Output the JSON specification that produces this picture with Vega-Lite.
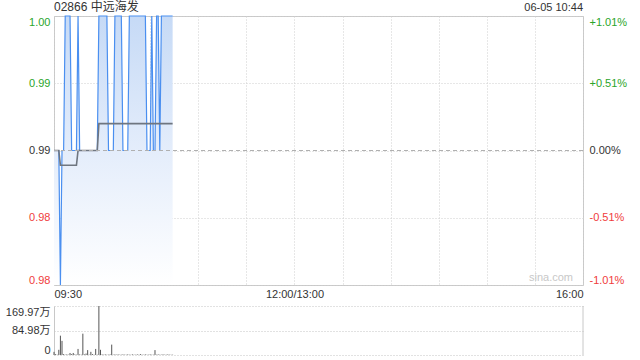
{
  "$schema": "https://vega.github.io/schema/vega-lite/v6.json",
  "padding": {"left": 5, "top": 0, "right": 5, "bottom": 0},
  "background": "white",
  "spacing": 5,
  "config": {
    "font": "Liberation Sans, Noto Sans CJK SC",
    "view": {"stroke": null},
    "axis": {"labelFontSize": 11, "labelColor": "#333", "ticks": false, "title": null, "gridColor": "#cfcfcf", "gridDash": [1, 2], "domainColor": "#c8c8c8", "labelOverlap": false}
  },
  "datasets": {
    "d": [
      {"m": 0, "p": 0.99, "a": 0.99, "v": 11},
      {"m": 1, "p": 0.99, "a": 0.99, "v": 3},
      {"m": 2, "p": 0.99, "a": 0.99, "v": 1},
      {"m": 3, "p": 0.99, "a": 0.99, "v": 18},
      {"m": 4, "p": 0.98, "a": 0.9889, "v": 67},
      {"m": 5, "p": 0.99, "a": 0.9889, "v": 49},
      {"m": 6, "p": 0.99, "a": 0.9889, "v": 3},
      {"m": 7, "p": 1.0, "a": 0.9889, "v": 1},
      {"m": 8, "p": 1.0, "a": 0.9889, "v": 2},
      {"m": 9, "p": 1.0, "a": 0.9889, "v": 1},
      {"m": 10, "p": 1.0, "a": 0.9889, "v": 7},
      {"m": 11, "p": 0.99, "a": 0.9889, "v": 3},
      {"m": 12, "p": 0.99, "a": 0.9889, "v": 7},
      {"m": 13, "p": 0.99, "a": 0.9889, "v": 2},
      {"m": 14, "p": 0.99, "a": 0.9889, "v": 1},
      {"m": 15, "p": 1.0, "a": 0.99, "v": 21},
      {"m": 16, "p": 0.99, "a": 0.99, "v": 2},
      {"m": 17, "p": 0.99, "a": 0.99, "v": 1},
      {"m": 18, "p": 0.99, "a": 0.99, "v": 74},
      {"m": 19, "p": 0.99, "a": 0.99, "v": 2},
      {"m": 20, "p": 0.99, "a": 0.99, "v": 5},
      {"m": 21, "p": 0.99, "a": 0.99, "v": 17},
      {"m": 22, "p": 0.99, "a": 0.99, "v": 1},
      {"m": 23, "p": 0.99, "a": 0.99, "v": 11},
      {"m": 24, "p": 0.99, "a": 0.99, "v": 3},
      {"m": 25, "p": 0.99, "a": 0.99, "v": 1},
      {"m": 26, "p": 0.99, "a": 0.99, "v": 21},
      {"m": 27, "p": 0.99, "a": 0.99, "v": 1},
      {"m": 28, "p": 1.0, "a": 0.992, "v": 169.97},
      {"m": 29, "p": 1.0, "a": 0.992, "v": 18},
      {"m": 30, "p": 1.0, "a": 0.992, "v": 2},
      {"m": 31, "p": 1.0, "a": 0.992, "v": 1},
      {"m": 32, "p": 1.0, "a": 0.992, "v": 2},
      {"m": 33, "p": 1.0, "a": 0.992, "v": 1},
      {"m": 34, "p": 0.99, "a": 0.992, "v": 1},
      {"m": 35, "p": 0.99, "a": 0.992, "v": 2},
      {"m": 36, "p": 0.99, "a": 0.992, "v": 36},
      {"m": 37, "p": 0.99, "a": 0.992, "v": 1},
      {"m": 38, "p": 1.0, "a": 0.992, "v": 2},
      {"m": 39, "p": 1.0, "a": 0.992, "v": 1},
      {"m": 40, "p": 1.0, "a": 0.992, "v": 2},
      {"m": 41, "p": 1.0, "a": 0.992, "v": 1},
      {"m": 42, "p": 1.0, "a": 0.992, "v": 1},
      {"m": 43, "p": 0.99, "a": 0.992, "v": 2},
      {"m": 44, "p": 0.99, "a": 0.992, "v": 1},
      {"m": 45, "p": 0.99, "a": 0.992, "v": 1},
      {"m": 46, "p": 0.99, "a": 0.992, "v": 2},
      {"m": 47, "p": 1.0, "a": 0.992, "v": 1},
      {"m": 48, "p": 1.0, "a": 0.992, "v": 1},
      {"m": 49, "p": 1.0, "a": 0.992, "v": 2},
      {"m": 50, "p": 1.0, "a": 0.992, "v": 1},
      {"m": 51, "p": 1.0, "a": 0.992, "v": 1},
      {"m": 52, "p": 1.0, "a": 0.992, "v": 2},
      {"m": 53, "p": 1.0, "a": 0.992, "v": 1},
      {"m": 54, "p": 1.0, "a": 0.992, "v": 3},
      {"m": 55, "p": 1.0, "a": 0.992, "v": 1},
      {"m": 56, "p": 1.0, "a": 0.992, "v": 1},
      {"m": 57, "p": 1.0, "a": 0.992, "v": 2},
      {"m": 58, "p": 0.99, "a": 0.992, "v": 1},
      {"m": 59, "p": 0.99, "a": 0.992, "v": 1},
      {"m": 60, "p": 0.99, "a": 0.992, "v": 2},
      {"m": 61, "p": 1.0, "a": 0.992, "v": 1},
      {"m": 62, "p": 0.99, "a": 0.992, "v": 1},
      {"m": 63, "p": 0.99, "a": 0.992, "v": 17},
      {"m": 64, "p": 1.0, "a": 0.992, "v": 1},
      {"m": 65, "p": 1.0, "a": 0.992, "v": 2},
      {"m": 66, "p": 0.99, "a": 0.992, "v": 1},
      {"m": 67, "p": 1.0, "a": 0.992, "v": 1},
      {"m": 68, "p": 1.0, "a": 0.992, "v": 2},
      {"m": 69, "p": 1.0, "a": 0.992, "v": 1},
      {"m": 70, "p": 1.0, "a": 0.992, "v": 1},
      {"m": 71, "p": 1.0, "a": 0.992, "v": 2},
      {"m": 72, "p": 1.0, "a": 0.992, "v": 1},
      {"m": 73, "p": 1.0, "a": 0.992, "v": 1},
      {"m": 74, "p": 1.0, "a": 0.992, "v": 1}
    ]
  },
  "vconcat": [
    {
      "width": 529,
      "height": 269,
      "view": {"stroke": "#c8c8c8"},
      "data": {"name": "d"},
      "resolve": {"axis": {"y": "independent"}},
      "layer": [
        {
          "mark": {"type": "area", "interpolate": "linear", "color": {"gradient": "linear", "x1": 0, "y1": 0, "x2": 0, "y2": 1, "stops": [{"offset": 0, "color": "#c6daf6"}, {"offset": 0.5, "color": "#e4edfb"}, {"offset": 1, "color": "#ffffff"}]}},
          "encoding": {
            "x": {"field": "m", "type": "quantitative", "scale": {"domain": [0, 330], "nice": false, "zero": false},
              "axis": {"values": [0, 30, 60, 90, 120, 150, 180, 210, 240, 270, 300, 330], "tickCount": 20, "labelExpr": "datum.value == 0 ? '09:30' : datum.value == 150 ? '12:00/13:00' : datum.value == 330 ? '16:00' : ''", "labelFlush": true, "labelPadding": 3, "domain": false, "grid": true}},
            "y": {"field": "p", "type": "quantitative", "scale": {"domain": [0.98, 1.0], "nice": false, "zero": false},
              "axis": {"orient": "left", "values": [0.98, 0.985, 0.99, 0.995, 1.0], "tickCount": 10, "format": ".2f", "labelFlush": true, "labelPadding": 4, "domain": false, "grid": true,
                "labelColor": {"condition": [{"test": "datum.value > 0.9901", "value": "#2aa52a"}, {"test": "datum.value < 0.9899", "value": "#f03c3c"}], "value": "#333"}}},
            "y2": {"datum": 0.98}
          }
        },
        {
          "mark": {"type": "line", "color": "#4a8ff0", "strokeWidth": 1.2},
          "encoding": {
            "x": {"field": "m", "type": "quantitative"},
            "y": {"field": "p", "type": "quantitative", "axis": null}
          }
        },
        {
          "mark": {"type": "line", "color": "#6f7680", "strokeWidth": 1.6},
          "encoding": {
            "x": {"field": "m", "type": "quantitative"},
            "y": {"field": "a", "type": "quantitative",
              "axis": {"orient": "right", "values": [0.98, 0.985, 0.99, 0.995, 1.0], "tickCount": 10, "labelExpr": "datum.value > 0.999 ? '+1.01%' : datum.value > 0.994 ? '+0.51%' : datum.value > 0.989 ? '0.00%' : datum.value > 0.984 ? '-0.51%' : '-1.01%'", "labelFlush": true, "labelPadding": 6, "domain": false, "grid": false,
                "labelColor": {"condition": [{"test": "datum.value > 0.9901", "value": "#2aa52a"}, {"test": "datum.value < 0.9899", "value": "#f03c3c"}], "value": "#333"}}}
          }
        },
        {
          "data": {"values": [{}]},
          "mark": {"type": "rule", "color": "#b0b0b0", "strokeDash": [4, 3], "strokeWidth": 1},
          "encoding": {"y": {"datum": 0.99, "type": "quantitative", "axis": null}}
        },
        {
          "data": {"values": [{}]},
          "mark": {"type": "text", "text": "sina.com", "align": "right", "baseline": "bottom", "dx": -10, "dy": -2, "fontSize": 11, "color": "#c8c8c8"},
          "encoding": {"x": {"datum": 330, "type": "quantitative"}, "y": {"datum": 0.98, "type": "quantitative", "axis": null}}
        },
        {
          "data": {"values": [{}]},
          "mark": {"type": "text", "text": "02866 中远海发", "align": "left", "baseline": "bottom", "dy": -2, "fontSize": 12, "color": "#333"},
          "encoding": {"x": {"datum": 0, "type": "quantitative"}, "y": {"datum": 1.0, "type": "quantitative", "axis": null}}
        },
        {
          "data": {"values": [{}]},
          "mark": {"type": "text", "text": "06-05 10:44", "align": "right", "baseline": "bottom", "dy": -3, "fontSize": 11, "color": "#333"},
          "encoding": {"x": {"datum": 330, "type": "quantitative"}, "y": {"datum": 1.0, "type": "quantitative", "axis": null}}
        }
      ]
    },
    {
      "width": 529,
      "height": 49,
      "data": {"name": "d"},
      "layer": [
        {
          "mark": {"type": "rule", "color": "#555", "strokeWidth": 1},
          "encoding": {
            "x": {"field": "m", "type": "quantitative", "scale": {"domain": [0, 330], "nice": false, "zero": false}, "axis": null},
            "y": {"field": "v", "type": "quantitative", "scale": {"domain": [0, 169.97], "nice": false, "zero": true},
              "axis": {"values": [0, 84.985, 169.97], "tickCount": 10, "labelExpr": "datum.value == 0 ? '0' : format(datum.value, '.2f') + '万'", "labelFlush": true, "labelOverlap": false, "labelPadding": 4, "domain": true, "grid": true, "gridColor": "#c4c4c4"}},
            "y2": {"datum": 0}
          }
        },
        {
          "data": {"values": [{}]},
          "mark": {"type": "rule", "color": "#c8c8c8"},
          "encoding": {"x": {"datum": 330, "type": "quantitative"}, "y": {"datum": 0, "type": "quantitative"}, "y2": {"datum": 169.97}}
        }
      ]
    }
  ]
}
